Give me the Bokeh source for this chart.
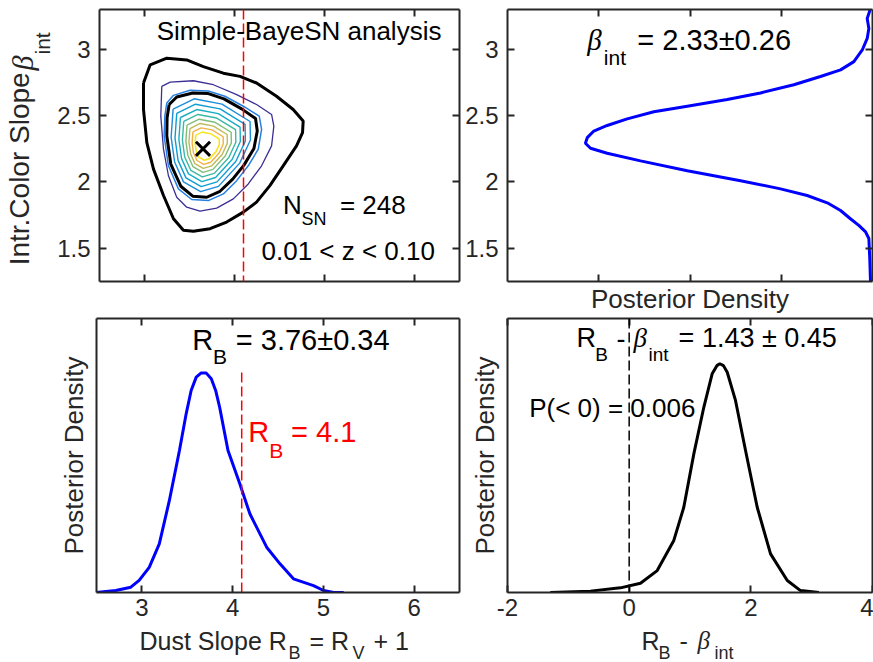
import numpy as np
from bokeh.plotting import figure
from bokeh.models import Range1d, LinearAxis, FixedTicker, Label, Span, NumeralTickFormatter
from bokeh.layouts import column, row
from bokeh.embed import file_html
from bokeh.resources import INLINE

FONT = "Liberation Sans"
GREEK = "Liberation Serif"
AX = "#262626"
NB = "\u00a0"

# ---------------- data ----------------
rb_ticks = [3, 4, 5, 6]
beta_ticks = [1.5, 2, 2.5, 3]
dens_ticks = [0.5, 1, 1.5]
diff_ticks = [-2, 0, 2, 4]

mode_rb = [3.65]
mode_beta = [2.25]
rb_ref = 4.1
rb_ref_top = 1.206

# 2D posterior contours (R_B, beta_int), outermost to innermost
c_outer_x = [2.989, 3.063, 3.248, 3.469, 3.654, 3.876, 4.061, 4.245, 4.467, 4.652, 4.763, 4.756, 4.689,
             4.541, 4.393, 4.245, 4.098, 3.913, 3.728, 3.543, 3.432, 3.322, 3.211, 3.100, 3.026, 2.989]
c_outer_y = [2.746, 2.883, 2.933, 2.920, 2.870, 2.820, 2.796, 2.746, 2.646, 2.546, 2.459, 2.372, 2.272,
             2.122, 1.973, 1.848, 1.773, 1.698, 1.648, 1.628, 1.636, 1.723, 1.898, 2.097, 2.297, 2.546]
c_purple_x = [3.192, 3.285, 3.543, 3.765, 4.024, 4.245, 4.412, 4.437, 4.412, 4.301, 4.153, 3.987, 3.802,
              3.617, 3.469, 3.358, 3.266, 3.211, 3.181]
c_purple_y = [2.721, 2.753, 2.763, 2.733, 2.658, 2.584, 2.509, 2.421, 2.272, 2.122, 1.985, 1.873, 1.803,
              1.781, 1.810, 1.885, 2.047, 2.247, 2.496]
c_blue_x = [3.248, 3.322, 3.506, 3.709, 3.894, 4.098, 4.275, 4.301, 4.264, 4.153, 4.024, 3.876, 3.709,
            3.525, 3.377, 3.266, 3.218, 3.226]
c_blue_y = [2.596, 2.653, 2.691, 2.686, 2.646, 2.571, 2.496, 2.397, 2.247, 2.122, 2.010, 1.910, 1.860,
            1.868, 1.948, 2.122, 2.347, 2.496]
c_68_x = [3.274, 3.358, 3.536, 3.709, 3.883, 4.079, 4.234, 4.253, 4.216, 4.105, 3.980, 3.839, 3.691,
          3.536, 3.403, 3.292, 3.248, 3.251]
c_68_y = [2.584, 2.641, 2.671, 2.666, 2.626, 2.551, 2.479, 2.384, 2.252, 2.127, 2.022, 1.930, 1.885,
          1.893, 1.968, 2.135, 2.347, 2.484]
c89_x = [3.318, 3.552, 3.861, 4.173, 4.177, 4.058, 3.822, 3.624, 3.433, 3.335, 3.296]
c89_y = [2.549, 2.627, 2.587, 2.456, 2.316, 2.142, 1.967, 1.927, 2.001, 2.150, 2.338]
c79_x = [3.358, 3.566, 3.840, 4.118, 4.121, 4.016, 3.806, 3.630, 3.461, 3.373, 3.339]
c79_y = [2.517, 2.586, 2.551, 2.434, 2.310, 2.156, 2.001, 1.965, 2.031, 2.163, 2.330]
c69_x = [3.399, 3.581, 3.820, 4.062, 4.065, 3.973, 3.790, 3.637, 3.489, 3.412, 3.382]
c69_y = [2.486, 2.546, 2.515, 2.413, 2.305, 2.170, 2.034, 2.003, 2.061, 2.176, 2.322]
c60_x = [3.436, 3.594, 3.802, 4.012, 4.015, 3.935, 3.775, 3.642, 3.514, 3.447, 3.421]
c60_y = [2.457, 2.509, 2.482, 2.394, 2.300, 2.183, 2.065, 2.038, 2.088, 2.188, 2.315]
c51_x = [3.472, 3.607, 3.784, 3.963, 3.965, 3.897, 3.761, 3.648, 3.539, 3.482, 3.460]
c51_y = [2.429, 2.473, 2.450, 2.375, 2.295, 2.196, 2.095, 2.072, 2.115, 2.200, 2.308]
c43_x = [3.505, 3.618, 3.767, 3.918, 3.920, 3.863, 3.748, 3.653, 3.561, 3.513, 3.494]
c43_y = [2.403, 2.441, 2.421, 2.358, 2.291, 2.207, 2.122, 2.103, 2.138, 2.210, 2.301]
c35_x = [3.538, 3.630, 3.751, 3.874, 3.875, 3.829, 3.736, 3.658, 3.583, 3.544, 3.529]
c35_y = [2.378, 2.408, 2.393, 2.341, 2.286, 2.218, 2.149, 2.133, 2.162, 2.221, 2.295]
c27_x = [3.570, 3.641, 3.735, 3.830, 3.831, 3.795, 3.723, 3.663, 3.605, 3.575, 3.563]
c27_y = [2.353, 2.376, 2.364, 2.324, 2.282, 2.229, 2.176, 2.164, 2.186, 2.231, 2.289]

# marginal posterior of beta_int
beta_grid = [1.250, 1.424, 1.574, 1.624, 1.673, 1.723, 1.785, 1.843, 1.898, 1.948, 2.010, 2.085, 2.159,
             2.217, 2.254, 2.292, 2.334, 2.384, 2.426, 2.476, 2.529, 2.571, 2.621, 2.671, 2.733, 2.795,
             2.845, 2.907, 2.995, 3.082, 3.157, 3.232, 3.307]
beta_dens = [0.011, 0.015, 0.020, 0.038, 0.075, 0.121, 0.175, 0.248, 0.358, 0.504, 0.723, 1.015, 1.271,
             1.454, 1.545, 1.573, 1.563, 1.527, 1.454, 1.344, 1.198, 1.015, 0.796, 0.614, 0.431, 0.285,
             0.175, 0.102, 0.056, 0.029, 0.020, 0.029, 0.011]

# marginal posterior of R_B
rb_grid = [2.482, 2.712, 2.878, 2.970, 3.081, 3.192, 3.303, 3.414, 3.488, 3.543, 3.599, 3.654, 3.710,
           3.765, 3.813, 3.857, 3.949, 4.079, 4.190, 4.375, 4.522, 4.670, 4.891, 5.002, 5.113, 5.224]
rb_dens = [0.0, 0.011, 0.029, 0.066, 0.138, 0.266, 0.504, 0.777, 0.978, 1.106, 1.179, 1.202, 1.201,
           1.170, 1.106, 1.014, 0.777, 0.595, 0.431, 0.248, 0.157, 0.075, 0.038, 0.011, 0.0, 0.0]

# posterior of R_B - beta_int
diff_grid = [-1.297, -0.638, -0.143, 0.186, 0.461, 0.734, 0.898, 1.063, 1.227, 1.364, 1.442, 1.490,
             1.550, 1.612, 1.748, 1.913, 2.105, 2.324, 2.599, 2.817, 3.118]
diff_dens = [0.0, 0.005, 0.017, 0.034, 0.080, 0.190, 0.311, 0.506, 0.676, 0.798, 0.828, 0.835, 0.828,
             0.804, 0.701, 0.518, 0.311, 0.141, 0.044, 0.007, 0.0]


# ---------------- helpers ----------------
def make_fig(w, h, xr, yr, left, right, top, bottom):
    p = figure(width=w, height=h, x_range=xr, y_range=yr, output_backend="svg",
               toolbar_location=None, min_border_left=left, min_border_right=right,
               min_border_top=top, min_border_bottom=bottom)
    p.grid.visible = False
    p.outline_line_color = None
    p.background_fill_color = "white"
    p.border_fill_color = "white"
    p.add_layout(LinearAxis(), "above")
    p.add_layout(LinearAxis(), "right")
    return p


def make_strip(w, h):
    p = figure(width=w, height=h, x_range=Range1d(0, w), y_range=Range1d(0, h),
               output_backend="svg", toolbar_location=None, x_axis_location=None,
               y_axis_location=None, min_border=0)
    p.min_border_left = p.min_border_right = p.min_border_top = p.min_border_bottom = 0
    p.grid.visible = False
    p.outline_line_color = None
    p.background_fill_color = "white"
    p.border_fill_color = "white"
    return p


def label_style(ax, size, font=FONT, style="normal", standoff=5):
    ax.axis_label_text_font = font
    ax.axis_label_text_font_size = f"{size}px"
    ax.axis_label_text_font_style = style
    ax.axis_label_text_color = AX
    ax.axis_label_standoff = standoff


def style_axes(p, xticks, yticks, xlabels, ylabels):
    for ax in p.xaxis:
        ax.ticker = FixedTicker(ticks=xticks)
    for ax in p.yaxis:
        ax.ticker = FixedTicker(ticks=yticks)
    for ax in p.axis:
        ax.formatter = NumeralTickFormatter(format="0.[0]")
        ax.minor_tick_line_color = None
        ax.major_tick_in = 7
        ax.major_tick_out = 0
        ax.major_tick_line_width = 2
        ax.major_tick_line_color = AX
        ax.axis_line_width = 2
        ax.axis_line_color = AX
        ax.major_label_text_font = FONT
        ax.major_label_text_color = None
        ax.major_label_text_font_size = "1px"
        ax.major_label_standoff = 0
        label_style(ax, 26)
    for flag, ax in ((xlabels, p.below[0]), (ylabels, p.left[0])):
        if flag:
            ax.major_label_text_color = AX
            ax.major_label_text_font_size = "24px"
            ax.major_label_standoff = 6 if ax is p.below[0] else 9


def label_axis(p, text, size, font, style, standoff):
    # extra axis on the left that only carries a piece of the y label
    ax = LinearAxis(ticker=FixedTicker(ticks=[]), axis_line_color=None,
                    major_tick_line_color=None, minor_tick_line_color=None,
                    major_label_text_color=None, major_label_text_font_size="1px",
                    major_label_standoff=0, major_tick_in=0, major_tick_out=0,
                    axis_label=text)
    label_style(ax, size, font, style, standoff)
    p.add_layout(ax, "left")


def txt(p, x, y, s, size, color="black", font=FONT, style="normal"):
    # (x, y) is the left end of the text baseline
    p.add_layout(Label(x=x, y=y, y_offset=round(0.34 * size), text=s, text_font=font,
                       text_font_size=f"{size}px", text_color=color, text_font_style=style,
                       text_align="left", text_baseline="middle"))


def closed(a):
    return list(a) + [a[0]]


# ---------------- top-left: 2D contours ----------------
p1 = make_fig(461, 316, Range1d(2.5, 6.5), Range1d(1.25, 3.3), 96, 2, 9, 33)
style_axes(p1, rb_ticks, beta_ticks, False, True)
# y label "Intr.Color Slope beta_int", built from three stacked axis labels
p1.left[0].axis_label = NB * 35 + "int"
label_style(p1.left[0], 21, standoff=0)
label_axis(p1, NB * 22 + "\u03b2", 30, GREEK, "italic", -10)
label_axis(p1, "Intr.Color Slope" + NB * 6, 28, FONT, "normal", -32)

levels = [
    (c_outer_x, c_outer_y, "#000000", 3),
    (c_purple_x, c_purple_y, "#3B2F95", 1.3),
    (c_blue_x, c_blue_y, "#2680E0", 1.5),
    (c89_x, c89_y, "#1C8DDB", 1.4),
    (c79_x, c79_y, "#0F9DD0", 1.4),
    (c69_x, c69_y, "#18ADC2", 1.4),
    (c60_x, c60_y, "#3DB8A2", 1.4),
    (c51_x, c51_y, "#80BE78", 1.4),
    (c43_x, c43_y, "#BFBA58", 1.4),
    (c35_x, c35_y, "#F2B143", 1.4),
    (c27_x, c27_y, "#F6E526", 1.6),
    (c_68_x, c_68_y, "#000000", 3),
]
for xs, ys, col, lw in levels:
    p1.line(closed(xs), closed(ys), line_color=col, line_width=lw)

p1.add_layout(Span(location=rb_ref, dimension="height", line_color="#FF0000",
                   line_dash="10 4", line_width=1.5))
p1.scatter(mode_rb, mode_beta, marker="x", size=20, line_color="black", line_width=3)

txt(p1, 3.136, 3.07, "Simple-BayeSN analysis", 26)
txt(p1, 4.539, 1.761, "N", 26)
txt(p1, 4.744, 1.673, "SN", 18)
txt(p1, 5.171, 1.761, "= 248", 26)
txt(p1, 4.300, 1.411, "0.01 < z < 0.10", 26)

# ---------------- top-right: beta marginal ----------------
p2 = make_fig(412, 316, Range1d(2, 0), Range1d(1.25, 3.3), 46, 1, 9, 33)
style_axes(p2, dens_ticks, beta_ticks, False, True)
p2.below[0].axis_label = "Posterior Density"
p2.below[0].axis_label_standoff = 2
p2.line(beta_dens, beta_grid, line_color="#0000FF", line_width=3)
txt(p2, 1.563, 2.995, "\u03b2", 29, font=GREEK, style="italic")
txt(p2, 1.472, 2.883, "int", 21)
txt(p2, 1.289, 2.995, "= 2.33\u00b10.26", 29)

# ---------------- bottom-left: R_B marginal ----------------
p3 = make_fig(461, 309, Range1d(2.5, 6.5), Range1d(0, 1.5), 96, 2, 2, 33)
style_axes(p3, rb_ticks, [], True, False)
p3.left[0].axis_label = "Posterior Density"
p3.left[0].axis_label_standoff = 8
p3.line(rb_grid, rb_dens, line_color="#0000FF", line_width=3)
p3.line([rb_ref, rb_ref], [0, rb_ref_top], line_color="#FF0000", line_dash="10 4", line_width=1.5)
txt(p3, 3.554, 1.325, "R", 29)
txt(p3, 3.783, 1.252, "B", 21)
txt(p3, 4.035, 1.325, "= 3.76\u00b10.34", 29)
txt(p3, 4.171, 0.823, "R", 29, color="#FF0000")
txt(p3, 4.404, 0.741, "B", 21, color="#FF0000")
txt(p3, 4.644, 0.823, "= 4.1", 29, color="#FF0000")

# ---------------- bottom-right: R_B - beta_int ----------------
p4 = make_fig(412, 309, Range1d(-2, 4), Range1d(0, 1.0), 46, 1, 2, 33)
style_axes(p4, diff_ticks, [], True, False)
p4.left[0].axis_label = "Posterior Density"
p4.left[0].axis_label_standoff = 8
p4.line(diff_grid, diff_dens, line_color="black", line_width=3)
p4.add_layout(Span(location=0, dimension="height", line_color="black",
                   line_dash="10 4", line_width=1.5))
txt(p4, -0.864, 0.895, "R", 27)
txt(p4, -0.556, 0.847, "B", 19)
txt(p4, -0.209, 0.895, "-", 27)
txt(p4, 0.071, 0.895, "\u03b2", 27, font=GREEK, style="italic")
txt(p4, 0.318, 0.847, "int", 19)
txt(p4, 0.813, 0.895, "= 1.43 \u00b1 0.45", 27)
txt(p4, -1.644, 0.640, "P(< 0) = 0.006", 26)

# ---------------- strip with the x labels of the bottom panels (y up, 0 = page bottom) ----
sE = make_strip(873, 37)
txt(sE, 139, 14, "Dust Slope R", 25, color=AX)
txt(sE, 288, 4, "B", 18, color=AX)
txt(sE, 309, 14, "= R", 25, color=AX)
txt(sE, 352, 4, "V", 18, color=AX)
txt(sE, 373, 14, "+ 1", 25, color=AX)
txt(sE, 641, 14, "R", 25, color=AX)
txt(sE, 658, 4, "B", 18, color=AX)
txt(sE, 679, 14, "-", 25, color=AX)
txt(sE, 697, 14, "\u03b2", 25, color=AX, font=GREEK, style="italic")
txt(sE, 714, 4, "int", 18, color=AX)

layout = column(row(p1, p2, spacing=0), row(p3, p4, spacing=0), sE, spacing=0)
open("out.html", "w").write(file_html(layout, INLINE))
